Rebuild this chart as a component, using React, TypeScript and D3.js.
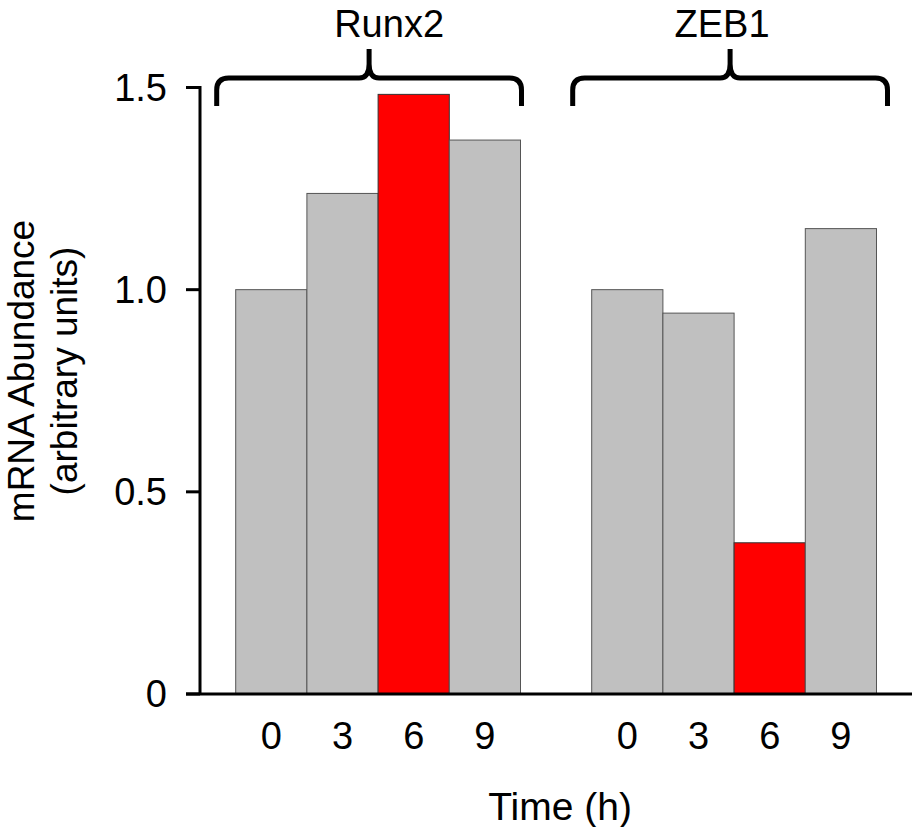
import React, { useEffect, useRef } from "react"
import * as d3 from "d3"

// data
const groups = ["Runx2", "ZEB1"]
const times = ["0", "3", "6", "9"]
const runx2Values = [1.0, 1.238, 1.483, 1.37]
const zeb1Values = [1.0, 0.942, 0.374, 1.151]
const highlightTime = "6"
const yTicks = [0, 0.5, 1.0, 1.5]
const yTickLabels = ["0", "0.5", "1.0", "1.5"]

const font = "'Liberation Sans', Arial, sans-serif"

function App() {
  const ref = useRef<SVGSVGElement>(null)

  useEffect(() => {
    const width = 912
    const svg = d3.select(ref.current)
    svg.selectAll("*").remove()

    const axisX = 200
    const x0 = d3.scaleBand()
      .domain(groups)
      .range([235.7, 876.5])
      .paddingInner(0.2)
      .paddingOuter(0)
    const x1 = d3.scaleBand()
      .domain(times)
      .range([0, x0.bandwidth()])
      .padding(0)
    const y = d3.scaleLinear()
      .domain([0, 1.5])
      .range([694, 87.5])

    const series = [runx2Values, zeb1Values]
    const rows = []
    groups.forEach((g, gi) => {
      times.forEach((t, ti) => {
        rows.push({ group: g, time: t, value: series[gi][ti] })
      })
    })

    // bars
    svg.append("g")
      .selectAll("rect")
      .data(rows)
      .enter()
      .append("rect")
      .attr("x", d => x0(d.group) + x1(d.time))
      .attr("width", x1.bandwidth())
      .attr("y", d => y(d.value))
      .attr("height", d => y(0) - y(d.value))
      .attr("fill", d => d.time === highlightTime ? "#ff0000" : "#c0c0c0")
      .attr("stroke", d => d.time === highlightTime ? "#333" : "#555")
      .attr("stroke-width", 1)

    // y axis
    svg.append("line")
      .attr("x1", axisX).attr("x2", axisX)
      .attr("y1", y(1.5) - 1.5).attr("y2", y(0))
      .attr("stroke", "#000").attr("stroke-width", 3)
    svg.append("g")
      .selectAll("line")
      .data(yTicks)
      .enter()
      .append("line")
      .attr("x1", 186).attr("x2", axisX)
      .attr("y1", d => y(d)).attr("y2", d => y(d))
      .attr("stroke", "#000").attr("stroke-width", 3)
    svg.append("g")
      .selectAll("text")
      .data(yTicks)
      .enter()
      .append("text")
      .attr("x", 167)
      .attr("y", d => y(d) + 13)
      .attr("text-anchor", "end")
      .style("font-family", font)
      .style("font-size", "38px")
      .text((d, i) => yTickLabels[i])

    // x axis baseline
    svg.append("line")
      .attr("x1", 186).attr("x2", width)
      .attr("y1", y(0)).attr("y2", y(0))
      .attr("stroke", "#000").attr("stroke-width", 3)

    // x tick labels
    svg.append("g")
      .selectAll("text")
      .data(rows)
      .enter()
      .append("text")
      .attr("x", d => x0(d.group) + x1(d.time) + x1.bandwidth() / 2)
      .attr("y", 749)
      .attr("text-anchor", "middle")
      .style("font-family", font)
      .style("font-size", "38px")
      .text(d => d.time)

    // braces with group names
    const brace = (l, r, top, bottom) => {
      const m = (l + r) / 2
      return `M${l},${bottom} L${l},${top + 12} Q${l},${top} ${l + 12},${top}` +
        ` L${m - 10},${top} Q${m},${top} ${m},${top - 14} L${m},${top - 29}` +
        ` M${m},${top - 14} Q${m},${top} ${m + 10},${top} L${r - 12},${top}` +
        ` Q${r},${top} ${r},${top + 12} L${r},${bottom}`
    }
    const braceRight = [1, 11]
    const labelDx = [20, -8]
    groups.forEach((g, gi) => {
      const l = x0(g) - 19
      const r = x0(g) + x0.bandwidth() + braceRight[gi]
      svg.append("path")
        .attr("d", brace(l, r, 78, 106))
        .attr("fill", "none")
        .attr("stroke", "#000")
        .attr("stroke-width", 5)
        .attr("stroke-linejoin", "round")
        .attr("stroke-linecap", "butt")
      svg.append("text")
        .attr("x", (l + r) / 2 + labelDx[gi])
        .attr("y", 37)
        .attr("text-anchor", "middle")
        .style("font-family", font)
        .style("font-size", "38px")
        .text(g)
    })

    // axis titles
    const xMid = (x0.range()[0] + x0.range()[1]) / 2
    svg.append("text")
      .attr("x", xMid + 4)
      .attr("y", 820)
      .attr("text-anchor", "middle")
      .style("font-family", font)
      .style("font-size", "39px")
      .text("Time (h)")

    const yTitle = svg.append("text")
      .attr("transform", "translate(0,371) rotate(-90)")
      .attr("text-anchor", "middle")
      .style("font-family", font)
      .style("font-size", "37px")
    yTitle.append("tspan").attr("x", 0).attr("y", 34).text("mRNA Abundance")
    yTitle.append("tspan").attr("x", 0).attr("y", 77).text("(arbitrary units)")
  }, [])

  return (
    <svg
      ref={ref}
      width={912}
      height={827}
      style={{ position: "absolute", left: 0, top: 0, background: "#fff" }}
    />
  )
}

export default App
